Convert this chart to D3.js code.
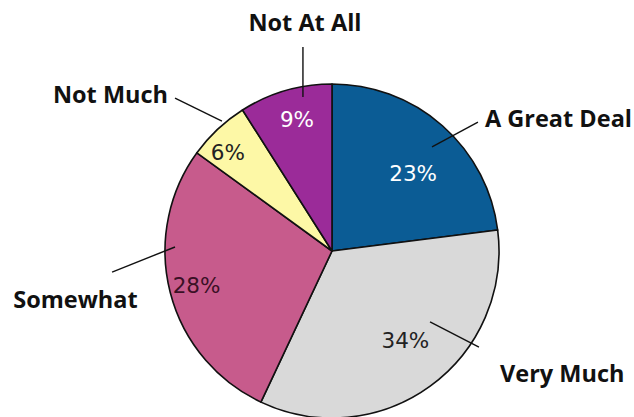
<!DOCTYPE html>
<html>
<head>
<meta charset="utf-8">
<script src="https://cdn.jsdelivr.net/npm/d3@7"></script>
<style>
  html, body { margin: 0; padding: 0; background: #ffffff; }
  svg { display: block; }
</style>
</head>
<body>
<svg id="chart" width="634" height="417"></svg>
<script>
// ---- data ----
const categories = ["A Great Deal", "Very Much", "Somewhat", "Not Much", "Not At All"];
const values = [23, 34, 28, 6, 9];
const colors = ["#0b5c95", "#d9d9d9", "#c75b8c", "#fdf8a6", "#9b2b99"];
const pctColors = ["#ffffff", "#222222", "#3a1025", "#222222", "#ffffff"];

// ---- layout (annotation placement, in units of the radius) ----
const pctPlacement = [   // [radius fraction, angle nudge in degrees]
  [0.64, 8], [0.73, -1], [0.85, -3], [0.83, -5.5], [0.77, 0.4]
];
const leaderLines = [    // [inner dx, dy], [outer dx, dy] relative to centre / radius
  [[0.599, -0.623], [0.874, -0.772]],
  [[0.587, 0.425], [0.880, 0.575]],
  [[-0.940, -0.024], [-1.317, 0.126]],
  [[-0.659, -0.778], [-0.940, -0.916]],
  [[-0.174, -0.922], [-0.174, -1.222]]
];
const catLabelPos = [    // [dx, dy, anchor]
  [0.916, -0.742, "start"],
  [1.006, 0.784, "start"],
  [-1.536, 0.341, "middle"],
  [-0.982, -0.886, "end"],
  [-0.162, -1.317, "middle"]
];

const width = 634, height = 417;
const cx = 332, cy = 251, R = 167;

const svg = d3.select("#chart");
const g = svg.append("g").attr("transform", `translate(${cx},${cy})`);

const data = categories.map((c, i) => ({ cat: c, value: values[i], i }));
const pie = d3.pie().sort(null).value(d => d.value);
const arcs = pie(data);
const arc = d3.arc().innerRadius(0).outerRadius(R);

g.selectAll("path.slice")
  .data(arcs)
  .join("path")
  .attr("class", "slice")
  .attr("d", arc)
  .attr("fill", d => colors[d.data.i])
  .attr("stroke", "#111")
  .attr("stroke-width", 1.6)
  .attr("stroke-linejoin", "round");

// percentage labels
g.selectAll("text.pct")
  .data(arcs)
  .join("text")
  .attr("class", "pct")
  .attr("x", d => {
    const p = pctPlacement[d.data.i];
    const a = (d.startAngle + d.endAngle) / 2 + p[1] * Math.PI / 180;
    return Math.sin(a) * R * p[0];
  })
  .attr("y", d => {
    const p = pctPlacement[d.data.i];
    const a = (d.startAngle + d.endAngle) / 2 + p[1] * Math.PI / 180;
    return -Math.cos(a) * R * p[0];
  })
  .attr("text-anchor", "middle")
  .attr("font-family", "'DejaVu Sans', sans-serif")
  .attr("font-size", 21.5)
  .attr("fill", d => pctColors[d.data.i])
  .text(d => d.data.value + "%");

// leader lines
g.selectAll("line.leader")
  .data(arcs)
  .join("line")
  .attr("class", "leader")
  .attr("x1", d => leaderLines[d.data.i][0][0] * R)
  .attr("y1", d => leaderLines[d.data.i][0][1] * R)
  .attr("x2", d => leaderLines[d.data.i][1][0] * R)
  .attr("y2", d => leaderLines[d.data.i][1][1] * R)
  .attr("stroke", "#111")
  .attr("stroke-width", 1.4);

// category labels
g.selectAll("text.cat")
  .data(arcs)
  .join("text")
  .attr("class", "cat")
  .attr("x", d => catLabelPos[d.data.i][0] * R)
  .attr("y", d => catLabelPos[d.data.i][1] * R)
  .attr("text-anchor", d => catLabelPos[d.data.i][2])
  .attr("font-family", "'Open Sans', sans-serif")
  .attr("font-weight", "bold")
  .attr("font-size", 23.5)
  .attr("fill", "#111")
  .text(d => d.data.cat);
</script>
</body>
</html>
